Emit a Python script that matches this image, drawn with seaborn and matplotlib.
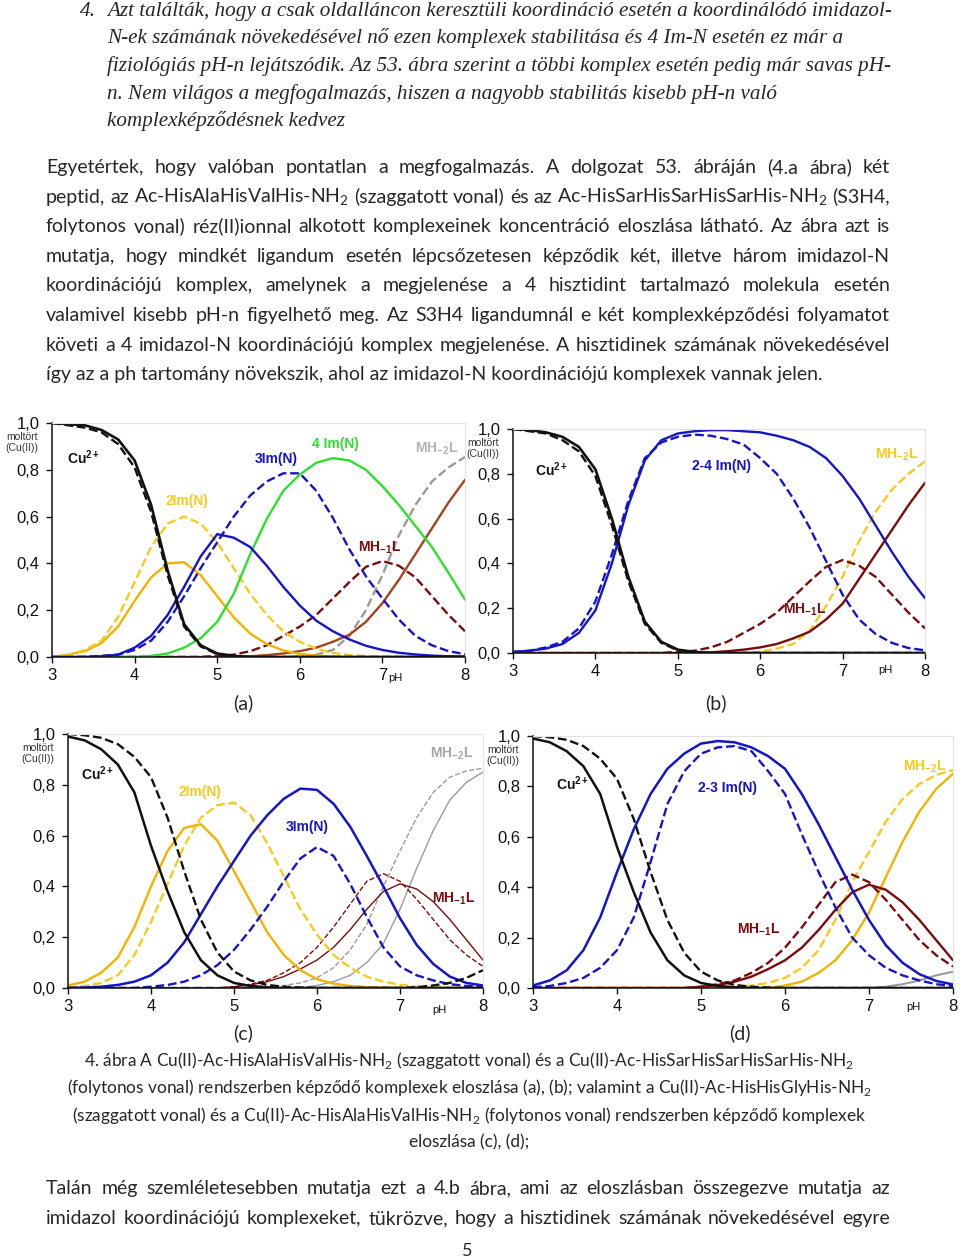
import matplotlib
matplotlib.use("Agg")
import matplotlib.pyplot as plt
import seaborn as sns

W, H = 960, 1260

# pH grid used for all four panels
ph = [3.0, 3.2, 3.4, 3.6, 3.8, 4.0, 4.2, 4.4, 4.6, 4.8, 5.0, 5.2, 5.4,
      5.6, 5.8, 6.0, 6.2, 6.4, 6.6, 6.8, 7.0, 7.2, 7.4, 7.6, 7.8, 8.0]
y_ticks = [0, 0.2, 0.4, 0.6, 0.8, 1.0]
y_tick_labels = ["0,0", "0,2", "0,4", "0,6", "0,8", "1,0"]
x_ticks = [3, 4, 5, 6, 7, 8]
x_tick_labels = ["3", "4", "5", "6", "7", "8"]

# (a)  dashed: Ac-HisAlaHisValHis-NH2, solid: S3H4
a_cu = [1.0, 0.995, 0.99, 0.97, 0.93, 0.84, 0.65, 0.37, 0.14, 0.05, 0.015, 0.005,
        0, 0, 0, 0, 0, 0, 0, 0, 0, 0, 0, 0, 0, 0]
a_cu_d = [1.0, 0.99, 0.98, 0.96, 0.91, 0.81, 0.62, 0.35, 0.13, 0.045, 0.012, 0.003,
          0, 0, 0, 0, 0, 0, 0, 0, 0, 0, 0, 0, 0, 0]
a_2im = [0.0, 0.01, 0.025, 0.06, 0.13, 0.24, 0.34, 0.40, 0.405, 0.35, 0.26, 0.17, 0.10,
         0.055, 0.028, 0.013, 0.006, 0.003, 0, 0, 0, 0, 0, 0, 0, 0]
a_2im_d = [0.0, 0.01, 0.03, 0.07, 0.17, 0.32, 0.47, 0.57, 0.60, 0.57, 0.49, 0.38, 0.27,
           0.18, 0.11, 0.065, 0.035, 0.018, 0.008, 0.004, 0, 0, 0, 0, 0, 0]
a_3im = [0, 0, 0, 0.003, 0.01, 0.04, 0.09, 0.18, 0.30, 0.43, 0.525, 0.51, 0.47,
         0.39, 0.30, 0.22, 0.155, 0.11, 0.075, 0.048, 0.03, 0.018, 0.011, 0.006, 0.003, 0.002]
a_3im_d = [0, 0, 0, 0.005, 0.01, 0.03, 0.07, 0.15, 0.26, 0.38, 0.49, 0.60, 0.69,
           0.75, 0.785, 0.785, 0.71, 0.595, 0.46, 0.345, 0.25, 0.16, 0.09, 0.05, 0.025, 0.012]
a_4im = [0, 0, 0, 0, 0, 0, 0.005, 0.015, 0.04, 0.08, 0.15, 0.27, 0.44,
         0.59, 0.71, 0.78, 0.83, 0.85, 0.84, 0.80, 0.73, 0.65, 0.56, 0.47, 0.36, 0.245]
a_mh1_d = [0, 0, 0, 0, 0, 0, 0, 0, 0, 0, 0.005, 0.01, 0.025,
           0.05, 0.09, 0.13, 0.18, 0.25, 0.32, 0.385, 0.41, 0.39, 0.34, 0.26, 0.18, 0.11]
a_mh2 = [0, 0, 0, 0, 0, 0, 0, 0, 0, 0, 0, 0, 0.003,
         0.008, 0.015, 0.025, 0.04, 0.065, 0.095, 0.15, 0.23, 0.33, 0.44, 0.55, 0.66, 0.757]
a_mh2_d = [0, 0, 0, 0, 0, 0, 0, 0, 0, 0, 0, 0, 0,
           0, 0, 0.003, 0.01, 0.03, 0.09, 0.20, 0.35, 0.52, 0.65, 0.75, 0.81, 0.855]

# (b)
b_cu = [1.0, 0.995, 0.985, 0.965, 0.92, 0.82, 0.60, 0.34, 0.14, 0.05, 0.015, 0.005,
        0, 0, 0, 0, 0, 0, 0, 0, 0, 0, 0, 0, 0, 0]
b_cu_d = [1.0, 0.99, 0.98, 0.95, 0.90, 0.79, 0.57, 0.32, 0.13, 0.045, 0.012, 0.003,
          0, 0, 0, 0, 0, 0, 0, 0, 0, 0, 0, 0, 0, 0]
b_im = [0.005, 0.01, 0.02, 0.04, 0.09, 0.19, 0.40, 0.66, 0.86, 0.95, 0.98, 0.99, 0.995,
        0.995, 0.99, 0.985, 0.97, 0.95, 0.92, 0.87, 0.79, 0.69, 0.57, 0.45, 0.34, 0.245]
b_im_d = [0.005, 0.01, 0.025, 0.05, 0.11, 0.23, 0.44, 0.68, 0.87, 0.94, 0.965, 0.975, 0.97,
          0.955, 0.93, 0.87, 0.80, 0.69, 0.56, 0.41, 0.26, 0.15, 0.085, 0.045, 0.022, 0.012]
b_mh1_d = [0, 0, 0, 0, 0, 0, 0, 0, 0, 0, 0.005, 0.01, 0.025,
           0.05, 0.09, 0.13, 0.18, 0.25, 0.32, 0.385, 0.415, 0.39, 0.34, 0.26, 0.18, 0.11]
b_mh2 = [0, 0, 0, 0, 0, 0, 0, 0, 0, 0, 0, 0, 0.003,
         0.008, 0.015, 0.025, 0.04, 0.065, 0.095, 0.15, 0.22, 0.33, 0.44, 0.55, 0.66, 0.76]
b_mh2_d = [0, 0, 0, 0, 0, 0, 0, 0, 0, 0, 0, 0, 0,
           0, 0, 0.005, 0.02, 0.04, 0.10, 0.21, 0.34, 0.50, 0.63, 0.73, 0.80, 0.855]

# (c)  dashed: Ac-HisHisGlyHis-NH2, solid: Ac-HisAlaHisValHis-NH2
c_cu = [0.99, 0.975, 0.94, 0.88, 0.77, 0.56, 0.38, 0.22, 0.11, 0.05, 0.02, 0.008, 0.003,
        0, 0, 0, 0, 0, 0, 0, 0, 0, 0, 0, 0, 0]
c_cu_d = [1.0, 0.995, 0.985, 0.96, 0.91, 0.83, 0.67, 0.46, 0.27, 0.14, 0.065, 0.03, 0.012,
          0.005, 0.002, 0, 0, 0, 0, 0, 0, 0, 0, 0, 0, 0]
c_mh3_d = [0, 0, 0, 0, 0, 0, 0, 0, 0, 0, 0, 0, 0,
           0, 0, 0, 0, 0, 0, 0, 0, 0.003, 0.01, 0.02, 0.04, 0.07]
c_2im = [0.01, 0.025, 0.06, 0.12, 0.24, 0.40, 0.54, 0.63, 0.645, 0.58, 0.46, 0.34, 0.22,
         0.13, 0.07, 0.035, 0.017, 0.008, 0.004, 0.002, 0, 0, 0, 0, 0, 0]
c_2im_d = [0.002, 0.008, 0.02, 0.05, 0.13, 0.26, 0.41, 0.56, 0.67, 0.72, 0.73, 0.68, 0.57,
           0.44, 0.31, 0.21, 0.13, 0.08, 0.045, 0.025, 0.013, 0.006, 0.003, 0, 0, 0]
c_3im = [0.0, 0.002, 0.005, 0.012, 0.025, 0.05, 0.10, 0.18, 0.29, 0.40, 0.50, 0.60, 0.68,
         0.745, 0.785, 0.78, 0.725, 0.635, 0.52, 0.40, 0.275, 0.17, 0.095, 0.045, 0.02, 0.01]
c_3im_d = [0, 0, 0, 0, 0, 0.005, 0.012, 0.025, 0.05, 0.09, 0.15, 0.23, 0.32,
           0.42, 0.51, 0.555, 0.52, 0.41, 0.28, 0.16, 0.085, 0.05, 0.03, 0.015, 0.008, 0.004]
c_mh1 = [0, 0, 0, 0, 0, 0, 0, 0, 0, 0, 0.005, 0.012, 0.025,
         0.045, 0.075, 0.11, 0.16, 0.23, 0.31, 0.38, 0.41, 0.39, 0.34, 0.27, 0.19, 0.11]
c_mh1_d = [0, 0, 0, 0, 0, 0, 0, 0, 0, 0, 0.005, 0.015, 0.03,
           0.06, 0.10, 0.16, 0.24, 0.33, 0.42, 0.45, 0.42, 0.35, 0.27, 0.19, 0.13, 0.085]
c_mh2 = [0, 0, 0, 0, 0, 0, 0, 0, 0, 0, 0, 0, 0,
         0, 0, 0.01, 0.025, 0.05, 0.10, 0.175, 0.31, 0.47, 0.62, 0.74, 0.81, 0.85]
c_mh2_d = [0, 0, 0, 0, 0, 0, 0, 0, 0, 0, 0, 0, 0,
           0.01, 0.02, 0.04, 0.08, 0.15, 0.25, 0.40, 0.54, 0.67, 0.77, 0.83, 0.855, 0.865]

# (d)
d_cu = [0.99, 0.975, 0.94, 0.88, 0.77, 0.56, 0.38, 0.22, 0.11, 0.05, 0.02, 0.008, 0.003,
        0, 0, 0, 0, 0, 0, 0, 0, 0, 0, 0, 0, 0]
d_cu_d = [1.0, 0.995, 0.985, 0.96, 0.91, 0.83, 0.67, 0.46, 0.27, 0.14, 0.065, 0.03, 0.012,
          0.005, 0.002, 0, 0, 0, 0, 0, 0, 0, 0, 0, 0, 0]
d_im = [0.01, 0.03, 0.07, 0.15, 0.28, 0.46, 0.63, 0.77, 0.87, 0.93, 0.97, 0.98, 0.975,
        0.955, 0.92, 0.87, 0.77, 0.65, 0.52, 0.39, 0.27, 0.17, 0.10, 0.055, 0.028, 0.014]
d_im_d = [0.003, 0.008, 0.02, 0.04, 0.08, 0.15, 0.28, 0.50, 0.73, 0.86, 0.93, 0.955, 0.96,
          0.94, 0.86, 0.77, 0.61, 0.46, 0.32, 0.20, 0.13, 0.08, 0.05, 0.03, 0.015, 0.008]
d_mh1 = [0, 0, 0, 0, 0, 0, 0, 0, 0, 0, 0.005, 0.012, 0.025,
         0.045, 0.075, 0.11, 0.16, 0.23, 0.31, 0.38, 0.41, 0.39, 0.34, 0.27, 0.19, 0.11]
d_mh1_d = [0, 0, 0, 0, 0, 0, 0, 0, 0, 0, 0.005, 0.015, 0.03,
           0.06, 0.10, 0.16, 0.24, 0.33, 0.42, 0.45, 0.42, 0.35, 0.27, 0.19, 0.13, 0.085]
d_mh2 = [0, 0, 0, 0, 0, 0, 0, 0, 0, 0, 0, 0, 0,
         0, 0, 0.01, 0.025, 0.06, 0.11, 0.19, 0.30, 0.44, 0.58, 0.70, 0.79, 0.85]
d_mh2_d = [0, 0, 0, 0, 0, 0, 0, 0, 0, 0, 0, 0, 0,
           0.01, 0.02, 0.04, 0.08, 0.15, 0.27, 0.42, 0.54, 0.66, 0.75, 0.81, 0.845, 0.865]
d_gray = [0, 0, 0, 0, 0, 0, 0, 0, 0, 0, 0, 0, 0,
          0, 0, 0, 0, 0, 0, 0, 0, 0.005, 0.015, 0.03, 0.05, 0.065]

# page text
intro_lines = [
    "Azt találták, hogy a csak oldalláncon keresztüli koordináció esetén a koordinálódó imidazol-",
    "N-ek számának növekedésével nő ezen komplexek stabilitása és 4 Im-N esetén ez már a",
    "fiziológiás pH-n lejátszódik. Az 53. ábra szerint a többi komplex esetén pedig már savas pH-",
    "n. Nem világos a megfogalmazás, hiszen a nagyobb stabilitás kisebb pH-n való",
    "komplexképződésnek kedvez",
]
body_lines = [
    "Egyetértek, hogy valóban pontatlan a megfogalmazás.  A dolgozat 53. ábráján (4.a ábra) két",
    r"peptid, az Ac-HisAlaHisValHis-NH$_\mathregular{2}$ (szaggatott vonal) és az Ac-HisSarHisSarHisSarHis-NH$_\mathregular{2}$ (S3H4,",
    "folytonos vonal) réz(II)ionnal alkotott komplexeinek koncentráció eloszlása látható. Az ábra azt is",
    "mutatja, hogy mindkét ligandum esetén lépcsőzetesen képződik két, illetve három imidazol-N",
    "koordinációjú komplex, amelynek a megjelenése a 4 hisztidint tartalmazó molekula esetén",
    "valamivel kisebb pH-n figyelhető meg. Az S3H4 ligandumnál e két komplexképződési folyamatot",
    "követi a 4 imidazol-N koordinációjú komplex megjelenése. A hisztidinek számának növekedésével",
    "így az a ph tartomány növekszik, ahol az imidazol-N koordinációjú komplexek vannak jelen.",
]
caption_lines = [
    r"4. ábra A Cu(II)-Ac-HisAlaHisValHis-NH$_\mathregular{2}$ (szaggatott vonal) és a Cu(II)-Ac-HisSarHisSarHisSarHis-NH$_\mathregular{2}$",
    r"(folytonos vonal) rendszerben képződő komplexek eloszlása (a), (b); valamint a Cu(II)-Ac-HisHisGlyHis-NH$_\mathregular{2}$",
    r"(szaggatott vonal) és a Cu(II)-Ac-HisAlaHisValHis-NH$_\mathregular{2}$ (folytonos vonal) rendszerben képződő komplexek",
    "eloszlása (c), (d);",
]
tail_lines = [
    "Talán még szemléletesebben mutatja ezt a 4.b ábra, ami az eloszlásban összegezve mutatja az",
    "imidazol koordinációjú komplexeket, tükrözve, hogy a hisztidinek számának növekedésével egyre",
]

sns.set_theme(style="white")
plt.rcParams["font.family"] = ["Liberation Sans", "DejaVu Sans"]

BLACK = "#111111"
GOLD = "#F0B400"
GOLD_D = "#F7CA1E"
BLUE = "#1414C8"
GREEN = "#2EE02E"
DRED = "#7A0C0C"
BROWN = "#A4431C"
GRAY = "#9A9A9A"

fig = plt.figure(figsize=(W / 100, H / 100), dpi=100)
renderer = fig.canvas.get_renderer()

BODY = ["Lato", "DejaVu Sans"]
SERIF = ["Liberation Serif", "DejaVu Serif"]


def px_axes(l, t, r, b):
    return fig.add_axes([l / W, 1 - b / H, (r - l) / W, (b - t) / H])


def text_line(s, y, x0, x1=None, size=14, family=BODY, style="normal"):
    if x1 is None:
        fig.text(x0 / W, 1 - y / H, s, fontsize=size, family=family,
                 style=style, va="baseline", ha="left")
        return
    words = s.split()
    items = [fig.text(0, 1 - y / H, w, fontsize=size, family=family,
                      style=style, va="baseline", ha="left") for w in words]
    widths = [t.get_window_extent(renderer).width for t in items]
    gap = (x1 - x0 - sum(widths)) / (len(words) - 1)
    x = x0
    for t, w in zip(items, widths):
        t.set_x(x / W)
        x += w + gap


def draw_panel(ax, series, labels, letter, letter_xy):
    for y, color, ls, lw in series:
        sns.lineplot(x=ph, y=y, ax=ax, color=color, linestyle=ls, linewidth=lw)
    ax.set_xlim(3, 8)
    ax.set_ylim(0, 1)
    ax.set_xticks(x_ticks)
    ax.set_xticklabels(x_tick_labels)
    ax.set_yticks(y_ticks)
    ax.set_yticklabels(y_tick_labels)
    ax.set_xlabel("")
    ax.set_ylabel("")
    ax.tick_params(axis="both", labelsize=12, colors=BLACK, direction="out",
                   length=4, width=1, bottom=True, left=True)
    ax.tick_params(axis="x", pad=4)
    ax.tick_params(axis="y", pad=5)
    for side in ["left", "bottom"]:
        ax.spines[side].set_color(BLACK)
        ax.spines[side].set_linewidth(1.1)
    for side in ["top", "right"]:
        ax.spines[side].set_color("#E2E2E2")
        ax.spines[side].set_linewidth(0.8)
    ax.annotate("moltört\n(Cu(II))", xy=(0, 1), xycoords="axes fraction",
                xytext=(-14, -9), textcoords="offset pixels", ha="right",
                va="top", fontsize=7.5, color="#333333", linespacing=1.1)
    for x, y, s, color in labels:
        ax.text(x, y, s, color=color, fontsize=10, fontweight="bold",
                ha="left", va="center")
    fig.text(letter_xy[0] / W, 1 - letter_xy[1] / H, letter, fontsize=14,
             family=BODY, ha="center", va="center")


ax_a = px_axes(52, 423, 465, 657)
draw_panel(ax_a, [
    (a_mh2_d, GRAY, "--", 1.7),
    (a_mh2, BROWN, "-", 1.7),
    (a_mh1_d, DRED, "--", 1.7),
    (a_2im, GOLD, "-", 1.7),
    (a_2im_d, GOLD_D, "--", 1.7),
    (a_4im, GREEN, "-", 1.7),
    (a_3im_d, BLUE, "--", 1.7),
    (a_3im, BLUE, "-", 1.7),
    (a_cu_d, BLACK, "--", 1.7),
    (a_cu, BLACK, "-", 1.9),
], [
    (3.18, 0.85, r"Cu$^\mathregular{2+}$", BLACK),
    (4.37, 0.665, "2Im(N)", GOLD_D),
    (5.45, 0.845, "3Im(N)", BLUE),
    (6.15, 0.91, "4 Im(N)", GREEN),
    (7.39, 0.89, r"MH$_\mathregular{-2}$L", "#B4B4B4"),
    (6.71, 0.465, r"MH$_\mathregular{-1}$L", DRED),
], "(a)", (243, 703))
ax_a.text(7.07, -0.09, "pH", transform=ax_a.get_xaxis_transform(),
          fontsize=8, va="center", ha="left", color=BLACK)

ax_b = px_axes(513, 429, 925, 653)
draw_panel(ax_b, [
    (b_mh2_d, GOLD_D, "--", 1.7),
    (b_mh2, DRED, "-", 1.7),
    (b_mh1_d, DRED, "--", 1.7),
    (b_im_d, BLUE, "--", 1.7),
    (b_im, BLUE, "-", 1.7),
    (b_cu_d, BLACK, "--", 1.7),
    (b_cu, BLACK, "-", 1.9),
], [
    (3.27, 0.817, r"Cu$^\mathregular{2+}$", BLACK),
    (5.17, 0.835, "2-4 Im(N)", BLUE),
    (7.39, 0.884, r"MH$_\mathregular{-2}$L", GOLD_D),
    (6.28, 0.193, r"MH$_\mathregular{-1}$L", DRED),
], "(b)", (716, 703))
ax_b.text(7.52, -0.076, "pH", transform=ax_b.get_xaxis_transform(),
          fontsize=8, va="center", ha="center", color=BLACK)

ax_c = px_axes(68, 734, 483, 988)
draw_panel(ax_c, [
    (c_mh2_d, GRAY, "--", 1.0),
    (c_mh2, GRAY, "-", 1.0),
    (c_mh1_d, DRED, "--", 1.0),
    (c_mh1, DRED, "-", 1.0),
    (c_2im, GOLD, "-", 1.7),
    (c_2im_d, GOLD_D, "--", 1.7),
    (c_3im_d, BLUE, "--", 1.7),
    (c_3im, BLUE, "-", 1.8),
    (c_mh3_d, BLACK, "--", 1.7),
    (c_cu_d, BLACK, "--", 1.7),
    (c_cu, BLACK, "-", 1.8),
], [
    (3.16, 0.845, r"Cu$^\mathregular{2+}$", BLACK),
    (4.33, 0.773, "2Im(N)", GOLD_D),
    (5.62, 0.635, "3Im(N)", BLUE),
    (7.36, 0.924, r"MH$_\mathregular{-2}$L", "#A8A8A8"),
    (7.38, 0.352, r"MH$_\mathregular{-1}$L", DRED),
], "(c)", (243, 1033))
ax_c.text(7.48, -0.088, "pH", transform=ax_c.get_xaxis_transform(),
          fontsize=8, va="center", ha="center", color=BLACK)

ax_d = px_axes(533, 736, 953, 988)
draw_panel(ax_d, [
    (d_gray, GRAY, "-", 1.5),
    (d_mh2_d, GOLD_D, "--", 1.7),
    (d_mh2, GOLD, "-", 1.7),
    (d_mh1_d, DRED, "--", 1.7),
    (d_mh1, DRED, "-", 1.7),
    (d_im_d, BLUE, "--", 1.7),
    (d_im, BLUE, "-", 1.8),
    (d_cu_d, BLACK, "--", 1.7),
    (d_cu, BLACK, "-", 1.8),
], [
    (3.27, 0.812, r"Cu$^\mathregular{2+}$", BLACK),
    (4.96, 0.795, "2-3 Im(N)", BLUE),
    (7.40, 0.878, r"MH$_\mathregular{-2}$L", GOLD_D),
    (5.43, 0.232, r"MH$_\mathregular{-1}$L", DRED),
], "(d)", (740, 1033))
ax_d.text(7.53, -0.075, "pH", transform=ax_d.get_xaxis_transform(),
          fontsize=8, va="center", ha="center", color=BLACK)

# italic quoted point
fig.text(80 / W, 1 - 16 / H, "4.", fontsize=15.2, family=SERIF, style="italic",
         va="baseline")
for i, s in enumerate(intro_lines):
    text_line(s, 16 + i * 27.5, 107, None, size=15.2, family=SERIF, style="italic")

# answer paragraph
for i, s in enumerate(body_lines):
    y = 173 + i * 29.6
    if i < len(body_lines) - 1:
        text_line(s, y, 46, 890, size=14)
    else:
        text_line(s, y, 46, None, size=14)

for i, s in enumerate(caption_lines):
    fig.text(469 / W, 1 - (1066 + i * 27.3) / H, s, fontsize=12.4,
             family=BODY, ha="center", va="baseline")

for i, s in enumerate(tail_lines):
    text_line(s, 1194 + i * 30, 46, 890, size=14)

fig.text(467 / W, 1 - 1256 / H, "5", fontsize=13, family=BODY, ha="center",
         va="baseline")

fig.savefig("out.png", dpi=100)
